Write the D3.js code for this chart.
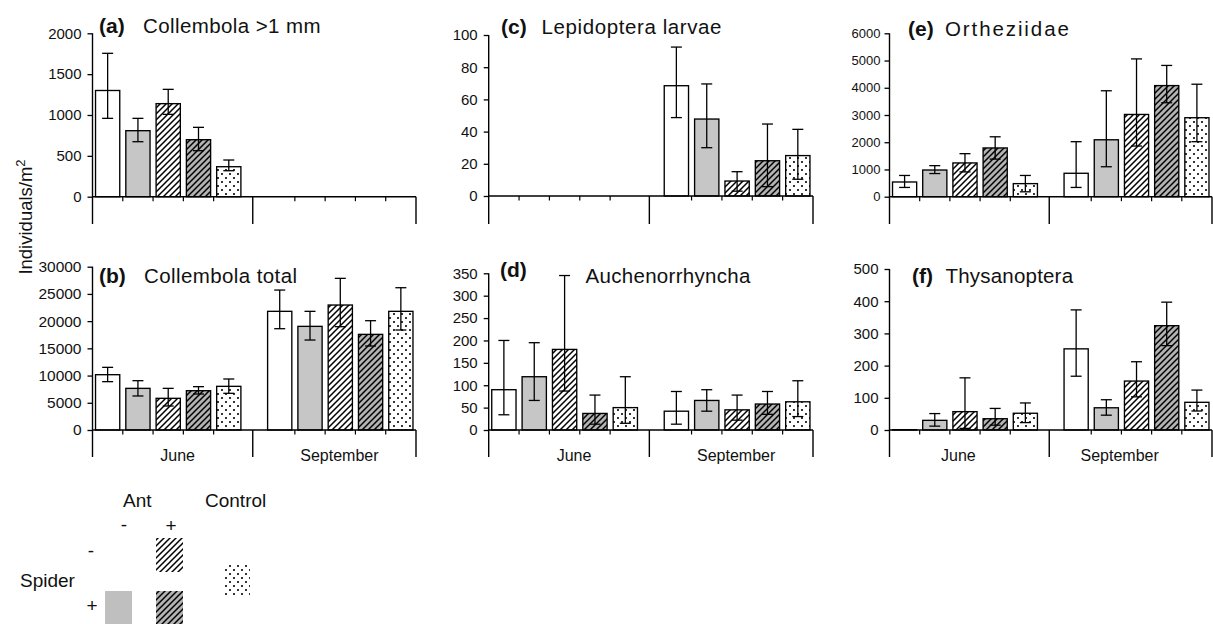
<!DOCTYPE html>
<html><head><meta charset="utf-8">
<script src="https://cdn.jsdelivr.net/npm/d3@7"></script>
<style>
html,body{margin:0;padding:0;background:#fff;}
svg{display:block;font-family:"Liberation Sans", Arial, Helvetica, sans-serif;}
</style></head><body>
<svg id="chart" width="1213" height="624"></svg>
<script>
// ---------------- data ----------------
const months = ["June", "September"];
const treatments = ["Ant- Spider-", "Ant- Spider+", "Ant+ Spider-", "Ant+ Spider+", "Control"];
const panelLetters = ["(a)", "(b)", "(c)", "(d)", "(e)", "(f)"];
const panelTitles = ["Collembola >1 mm", "Collembola total", "Lepidoptera larvae", "Auchenorrhyncha", "Ortheziidae", "Thysanoptera"];
const yMaxes = [2000, 30000, 100, 350, 6000, 500];
const yTickSteps = [500, 5000, 20, 50, 1000, 100];

// order: June (5 treatments) then September (5 treatments)
const meanA = [1300, 808, 1139, 698, 367, null, null, null, null, null];
const upA   = [1755, 959, 1314, 849, 449, null, null, null, null, null];
const loA   = [959, 673, 1008, 563, 318, null, null, null, null, null];

const meanB = [10160, 7650, 5820, 7220, 8020, 21800, 19040, 22960, 17570, 21800];
const upB   = [11510, 9060, 7650, 7960, 9370, 25710, 21800, 27860, 20080, 26140];
const loB   = [8880, 6250, 4410, 6610, 6740, 18610, 16530, 18980, 15430, 18370];

const meanC = [null, null, null, null, null, 68.5, 47.8, 9.3, 21.9, 25.1];
const upC   = [null, null, null, null, null, 92.5, 69.6, 15.1, 44.7, 41.4];
const loC   = [null, null, null, null, null, 48.7, 30.0, 3, 5.8, 10.4];

const meanD = [90, 119, 180, 37, 50, 42, 66, 45, 58, 63];
const upD   = [200, 195, 345, 78, 119, 86, 90, 78, 86, 110];
const loD   = [34, 66, 87, 13, 15, 13, 42, 22, 35, 30];

const meanE = [540, 980, 1240, 1790, 480, 860, 2090, 3020, 4080, 2900];
const upE   = [780, 1140, 1580, 2200, 780, 2020, 3890, 5060, 4820, 4130];
const loE   = [340, 850, 910, 1380, 180, 340, 1100, 1860, 3450, 2020];

const meanF = [1, 30, 57, 35, 52, 252, 69, 152, 324, 86];
const upF   = [null, 51, 162, 67, 84, 373, 94, 212, 397, 124];
const loF   = [null, 12, 5, 15, 23, 167, 46, 103, 262, 59];

const legendAnt = ["Ant", "-", "+"];
const legendSpider = ["Spider", "-", "+"];
const legendControl = "Control";
const yTitle = "Individuals/m";

// ---------------- layout ----------------
const allMeans = [meanA, meanB, meanC, meanD, meanE, meanF];
const allUps = [upA, upB, upC, upD, upE, upF];
const allLos = [loA, loB, loC, loD, loE, loF];

const layouts = [
  {x0: 92.5, x1: 416, yTop: 33.3, yZero: 196.7, yBot: 224, fs: 15, lx: 99, ly: 33, tx: 143, ty: 33, ls: 0.4, monthLabels: false, mdx: 0},
  {x0: 92.5, x1: 416, yTop: 266.7, yZero: 430, yBot: 457, fs: 15.5, lx: 99, ly: 283, tx: 144, ty: 283, ls: 0.4, monthLabels: true, mdx: 5},
  {x0: 488.7, x1: 813, yTop: 35, yZero: 196, yBot: 224, fs: 15, lx: 501, ly: 33.5, tx: 541.5, ty: 33.5, ls: 0.6, monthLabels: false, mdx: 0},
  {x0: 488.7, x1: 813, yTop: 273.3, yZero: 430, yBot: 457, fs: 15, lx: 500, ly: 277, tx: 585.5, ty: 283, ls: 0.3, monthLabels: true, mdx: 5},
  {x0: 889.5, x1: 1212, yTop: 33.3, yZero: 196.7, yBot: 224, fs: 13, lx: 908, ly: 36, tx: 945, ty: 36, ls: 1.9, monthLabels: false, mdx: 0},
  {x0: 889.5, x1: 1212, yTop: 269, yZero: 430, yBot: 457, fs: 15, lx: 912, ly: 283, tx: 945.5, ty: 283, ls: 0.2, monthLabels: true, mdx: -11}
];

const svg = d3.select("#chart");
const defs = svg.append("defs");

// patterns
function hatch(id, bg) {
  const s = 6;
  const p = defs.append("pattern").attr("id", id).attr("patternUnits", "userSpaceOnUse")
    .attr("width", s).attr("height", s);
  p.append("rect").attr("width", s).attr("height", s).attr("fill", bg);
  p.append("path").attr("d", `M-1,1 L1,-1 M0,${s} L${s},0 M${s - 1},${s + 1} L${s + 1},${s - 1}`)
    .attr("stroke", "#000").attr("stroke-width", 1.5).attr("fill", "none");
}
hatch("hatchLight", "#ffffff");
hatch("hatchDark", "#b3b3b3");
const dots = defs.append("pattern").attr("id", "dots").attr("patternUnits", "userSpaceOnUse")
  .attr("width", 8).attr("height", 8);
dots.append("rect").attr("width", 8).attr("height", 8).attr("fill", "#fff");
dots.append("circle").attr("cx", 2).attr("cy", 2).attr("r", 1.05).attr("fill", "#000");
dots.append("circle").attr("cx", 6).attr("cy", 6).attr("r", 1.05).attr("fill", "#000");

const fills = d3.scaleOrdinal().domain(treatments)
  .range(["#ffffff", "#c6c6c6", "url(#hatchLight)", "url(#hatchDark)", "url(#dots)"]);

layouts.forEach((L, pi) => {
  const g = svg.append("g");
  const y = d3.scaleLinear().domain([0, yMaxes[pi]]).range([L.yZero, L.yTop]);
  const xm = d3.scaleBand().domain(months).range([L.x0, L.x1]).paddingInner(0.12).paddingOuter(0);
  const xt = d3.scaleBand().domain(treatments).range([0, xm.bandwidth()]).paddingInner(0.2).paddingOuter(0.1);

  const rows = [];
  months.forEach((m, mi) => treatments.forEach((t, ti) => {
    const k = mi * 5 + ti;
    rows.push({m, t, v: allMeans[pi][k], up: allUps[pi][k], lo: allLos[pi][k]});
  }));

  // bars
  g.selectAll("rect.bar").data(rows.filter(d => d.v != null)).join("rect")
    .attr("class", "bar")
    .attr("x", d => xm(d.m) + xt(d.t))
    .attr("width", xt.bandwidth())
    .attr("y", d => y(d.v))
    .attr("height", d => Math.max(0.01, y(0) - y(d.v)))
    .attr("fill", d => fills(d.t))
    .attr("stroke", "#000").attr("stroke-width", 1.35);

  // error bars
  const eb = rows.filter(d => d.v != null && d.up != null);
  const cx = d => xm(d.m) + xt(d.t) + xt.bandwidth() / 2;
  const eg = g.append("g").attr("stroke", "#000").attr("stroke-width", 1.3).attr("fill", "none");
  eg.selectAll("line.v").data(eb).join("line").attr("class", "v")
    .attr("x1", cx).attr("x2", cx).attr("y1", d => y(d.up)).attr("y2", d => y(d.lo));
  eg.selectAll("line.cu").data(eb).join("line").attr("class", "cu")
    .attr("x1", d => cx(d) - 5.5).attr("x2", d => cx(d) + 5.5).attr("y1", d => y(d.up)).attr("y2", d => y(d.up));
  eg.selectAll("line.cl").data(eb).join("line").attr("class", "cl")
    .attr("x1", d => cx(d) - 5.5).attr("x2", d => cx(d) + 5.5).attr("y1", d => y(d.lo)).attr("y2", d => y(d.lo));

  // y axis
  const ticks = d3.range(0, yMaxes[pi] + yTickSteps[pi] / 2, yTickSteps[pi]);
  const ya = g.append("g").attr("transform", `translate(${L.x0},0)`)
    .call(d3.axisLeft(y).tickValues(ticks).tickSize(5).tickPadding(L.fs < 14 ? 4 : 6).tickFormat(d3.format("d")));
  ya.select(".domain").remove();
  ya.selectAll(".tick line").attr("stroke", "#000").attr("stroke-width", 1.3);
  ya.selectAll(".tick text").attr("font-size", L.fs).attr("font-family", "Liberation Sans, Arial, sans-serif").attr("fill", "#111");
  g.append("line").attr("x1", L.x0).attr("x2", L.x0).attr("y1", L.yTop).attr("y2", L.yBot)
    .attr("stroke", "#000").attr("stroke-width", 1.4);

  // x axis
  g.append("line").attr("x1", L.x0).attr("x2", L.x1).attr("y1", L.yZero).attr("y2", L.yZero)
    .attr("stroke", "#000").attr("stroke-width", 1.4);
  const small = [];
  months.forEach(m => treatments.slice(1).forEach(t => small.push(xm(m) + xt(t) - xt.step() * xt.paddingInner() / 2)));
  g.selectAll("line.st").data(small).join("line").attr("class", "st")
    .attr("x1", d => d).attr("x2", d => d).attr("y1", L.yZero).attr("y2", L.yZero + 4.5)
    .attr("stroke", "#000").attr("stroke-width", 1.2);
  const divider = (xm("June") + xm.bandwidth() + xm("September")) / 2 - 1.5;
  g.selectAll("line.big").data([divider, L.x1]).join("line").attr("class", "big")
    .attr("x1", d => d).attr("x2", d => d).attr("y1", L.yZero).attr("y2", L.yBot)
    .attr("stroke", "#000").attr("stroke-width", 1.4);

  if (L.monthLabels) {
    const centers = [(L.x0 + divider) / 2, (divider + L.x1) / 2];
    g.selectAll("text.month").data(months).join("text").attr("class", "month")
      .attr("x", (d, i) => centers[i] + L.mdx).attr("y", L.yZero + 31)
      .attr("text-anchor", "middle").attr("font-size", 16).attr("fill", "#111").text(d => d);
  }

  // titles
  g.append("text").attr("x", L.lx).attr("y", L.ly).attr("font-size", 21).attr("font-weight", "bold")
    .attr("fill", "#111").text(panelLetters[pi]);
  g.append("text").attr("x", L.tx).attr("y", L.ty).attr("font-size", 20.5).attr("letter-spacing", L.ls)
    .attr("fill", "#111").text(panelTitles[pi]);
});

// y axis title
const yt = svg.append("text").attr("transform", "translate(32,217) rotate(-90)")
  .attr("text-anchor", "middle").attr("font-size", 18.5).attr("fill", "#111");
yt.append("tspan").text(yTitle);
yt.append("tspan").attr("font-size", 13).attr("dy", -7).text("2");

// legend
const lg = svg.append("g").attr("fill", "#111").attr("font-size", 19);
lg.append("text").attr("x", 123).attr("y", 507).text(legendAnt[0]);
lg.append("text").attr("x", 205).attr("y", 507).text(legendControl);
lg.append("text").attr("x", 124).attr("y", 531).attr("text-anchor", "middle").text(legendAnt[1]);
lg.append("text").attr("x", 171).attr("y", 532).attr("text-anchor", "middle").text(legendAnt[2]);
lg.append("text").attr("x", 20).attr("y", 587).text(legendSpider[0]);
lg.append("text").attr("x", 91).attr("y", 557).attr("text-anchor", "middle").text(legendSpider[1]);
lg.append("text").attr("x", 92).attr("y", 612).attr("text-anchor", "middle").text(legendSpider[2]);

const legendBoxes = [
  {t: treatments[1], x: 105, y: 591},
  {t: treatments[2], x: 156, y: 538},
  {t: treatments[3], x: 156, y: 591},
  {t: treatments[4], x: 223, y: 563}
];
svg.selectAll("rect.leg").data(legendBoxes).join("rect").attr("class", "leg")
  .attr("x", d => d.x).attr("y", d => d.y).attr("width", 27).attr("height", 34)
  .attr("fill", d => d.t === treatments[1] ? "#bfbfbf" : fills(d.t));
</script>
</body></html>
